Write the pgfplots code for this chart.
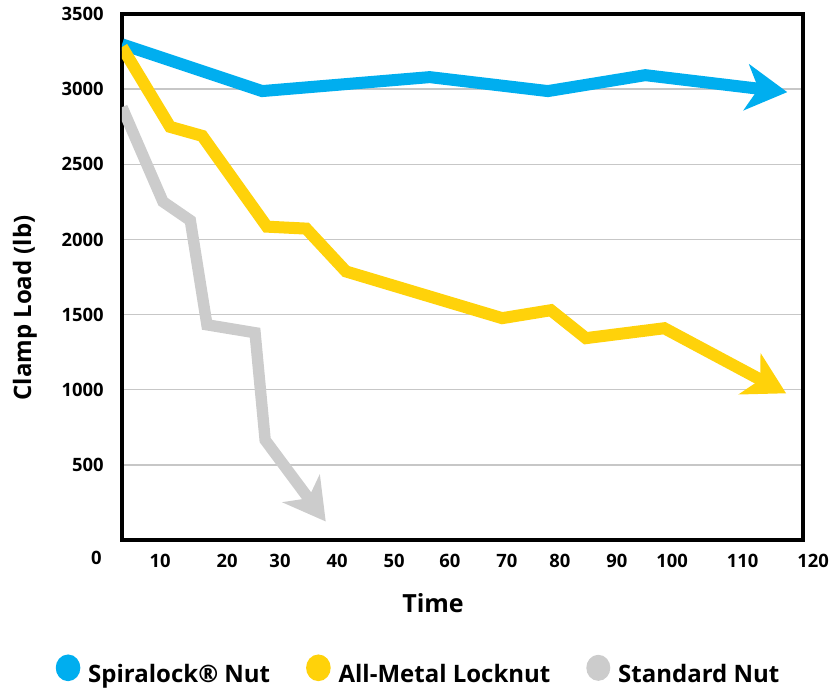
\documentclass[border=0pt]{standalone}
\usepackage{fontspec}
\setmainfont{Open Sans}
\usepackage{pgfplots}
\pgfplotsset{compat=1.18}
\usetikzlibrary{arrows.meta}
\definecolor{spblue}{HTML}{00AEEF}
\definecolor{spyellow}{HTML}{FFD20A}
\definecolor{spgray}{HTML}{CCCCCC}
\begin{document}
\begin{tikzpicture}
\path[use as bounding box] (-61pt,-74pt) rectangle (356.5pt,270pt);
\begin{axis}[
  scale only axis, width=340.5pt, height=263pt,
  at={(0pt,0pt)}, anchor=south west,
  xmin=3.6, xmax=118.25, ymin=0, ymax=3500,
  axis line style={line width=2pt, black},
  xtick={10.0,21.3,30.2,39.8,49.4,58.8,68.4,77.3,86.9,96.2,108.1},
  xticklabels={10,20,30,40,50,60,70,80,90,100,110},
  ytick={500,1000,1500,2000,2500,3000,3500},
  yticklabels={500,1000,1500,2000,2500,3000,3500},
  major tick length=0pt,
  ymajorgrids, grid style={line width=0.75pt, color=black!22},
  tick label style={font=\fontsize{9.2}{10}\selectfont\bfseries, inner sep=0pt},
  /pgf/number format/assume math mode=true,
  yticklabel style={anchor=east, xshift=-9pt},
  xticklabel style={anchor=north, yshift=-7pt},
  legend columns=3,
  legend style={at={(0.437,-0.251)}, anchor=center, draw=none, fill=none,
    font=\fontsize{12}{14}\selectfont\bfseries, inner sep=0pt,
    /tikz/every odd column/.style={column sep=2pt},
    /tikz/every even column/.style={column sep=16pt}},
]
\addplot[spblue, line width=6pt, -{Stealth[length=20.5pt,width=23pt,inset=6pt]},
  legend image code/.code={\fill[spblue] (3.1pt,0.35em) ellipse[x radius=3.1pt, y radius=3.6pt];}]
  coordinates {(3.6,3298) (27.2,2987) (55.4,3080) (75.3,2987) (91.7,3093) (115.6,2980)};
\addplot[spyellow, line width=6pt, -{Stealth[length=20.5pt,width=23pt,inset=6pt]},
  legend image code/.code={\fill[spyellow] (3.1pt,0.35em) ellipse[x radius=3.1pt, y radius=3.6pt];}]
  coordinates {(3.6,3280) (11.7,2749) (17.1,2689) (28.0,2085) (34.6,2072) (41.3,1787)
    (67.6,1476) (75.8,1529) (81.7,1343) (94.9,1409) (115.4,976)};
\addplot[spgray, line width=5.7pt, -{Stealth[length=20.5pt,width=23pt,inset=6pt]},
  legend image code/.code={\fill[spgray] (3.1pt,0.35em) ellipse[x radius=3.1pt, y radius=3.6pt];}]
  coordinates {(3.6,2880) (10.5,2251) (15.1,2126) (17.9,1432) (26.0,1379) (27.7,665) (37.9,123)};
\legend{Spiralock® Nut, All-Metal Locknut, Standard Nut}
\end{axis}
\node[anchor=east, inner sep=0pt, font=\fontsize{9.2}{10}\selectfont\bfseries] at (-10pt,-9pt) {0};
\node[anchor=north, inner sep=0pt, font=\fontsize{9.2}{10}\selectfont\bfseries] at (345.5pt,-7pt) {120};
\node[inner sep=0pt, font=\fontsize{12.5}{14}\selectfont\bfseries] at (155.5pt,-31.5pt) {Time};
\node[inner sep=0pt, rotate=90, font=\fontsize{12}{14}\selectfont\bfseries] at (-48.5pt,116pt) {Clamp Load (lb)};
\end{tikzpicture}
\end{document}
